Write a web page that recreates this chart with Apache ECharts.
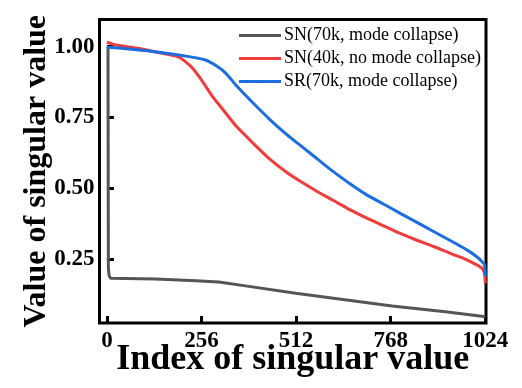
<!DOCTYPE html>
<html lang="en">
<head>
    <meta charset="UTF-8">
    <title>Singular values</title>
    <script src="https://cdn.jsdelivr.net/npm/echarts@6/dist/echarts.min.js"></script>
    <style>
        html, body { margin: 0; padding: 0; background: #fff; }
        #chart { width: 522px; height: 388px; }
    </style>
</head>
<body>
    <div id="chart"></div>
    <script>
        // series names (legend)
        var names = ['SN(70k, mode collapse)', 'SN(40k, no mode collapse)', 'SR(70k, mode collapse)'];

        // gray: SN 70k
        var grayIdx = [3, 3.5, 4, 6, 10, 132, 241, 303, 375, 511, 644, 772, 916, 1020, 1024];
        var grayVal = [1.0, 0.6, 0.22, 0.192, 0.183, 0.180, 0.174, 0.170, 0.156, 0.130, 0.107, 0.085, 0.065, 0.048, 0.046];

        // red: SN 40k
        var redIdx = [0, 24, 87, 150, 191, 209, 232, 259, 286, 308, 351, 396, 441, 487, 532, 577, 612, 657, 702, 747, 794, 839, 884, 929, 974, 1001, 1015, 1022, 1024];
        var redVal = [1.016, 1.006, 0.994, 0.977, 0.965, 0.951, 0.924, 0.877, 0.824, 0.788, 0.718, 0.659, 0.603, 0.556, 0.518, 0.483, 0.458, 0.425, 0.396, 0.369, 0.341, 0.317, 0.295, 0.271, 0.248, 0.230, 0.218, 0.200, 0.165];

        // blue: SR 70k
        var blueIdx = [0, 60, 150, 222, 267, 299, 322, 349, 389, 441, 487, 532, 577, 612, 657, 702, 747, 794, 839, 884, 929, 974, 1001, 1015, 1022, 1024];
        var blueVal = [0.998, 0.992, 0.979, 0.965, 0.953, 0.930, 0.906, 0.865, 0.810, 0.743, 0.690, 0.643, 0.596, 0.560, 0.517, 0.478, 0.446, 0.412, 0.380, 0.348, 0.316, 0.283, 0.259, 0.242, 0.230, 0.190];

        // tick labels
        var xTicks = [0, 256, 512, 768, 1024];
        var yTicks = [0.25, 0.5, 0.75, 1.0];

        var colors = ['#555555', '#f03c3c', '#1c6ddf'];
        var font = 'Liberation Serif';

        function pairs(xs, ys) {
            return xs.map(function(x, i) { return [x, ys[i]]; });
        }

        var chart = echarts.init(document.getElementById('chart'));

        function mkSeries(i, xs, ys, smooth) {
            return {
                name: names[i],
                type: 'line',
                data: pairs(xs, ys),
                symbol: 'none',
                smooth: smooth,
                lineStyle: { color: colors[i], width: 3 },
                itemStyle: { color: colors[i] }
            };
        }

        var option = {
            animation: false,
            backgroundColor: '#fff',
            grid: {
                left: 99.5, right: 36, top: 19.5, bottom: 65,
                show: true, borderColor: '#000', borderWidth: 3,
                containLabel: false,
                outerBoundsMode: 'none'
            },
            legend: {
                orient: 'vertical',
                left: 239, top: 26.5,
                padding: 0,
                itemWidth: 42, itemHeight: 3,
                itemGap: 5,
                icon: 'rect',
                data: names,
                textStyle: { fontFamily: font, fontSize: 18, color: '#000', padding: [0, 0, 0, -2] }
            },
            xAxis: {
                type: 'value',
                min: -20, max: 1026,
                name: 'Index of singular value',
                nameLocation: 'middle',
                nameGap: 19,
                nameMoveOverlap: false,
                nameTextStyle: { fontFamily: font, fontSize: 36, fontWeight: 'bold', color: '#000' },
                axisLine: { show: false },
                splitLine: { show: false },
                axisTick: { show: true, inside: true, length: 7, customValues: xTicks, lineStyle: { color: '#000', width: 3 } },
                axisLabel: {
                    customValues: xTicks, margin: 7,
                    fontFamily: font, fontSize: 23, fontWeight: 'bold', color: '#000',
                    formatter: function(v) { return String(v); }
                }
            },
            yAxis: {
                type: 'value',
                min: 0.025, max: 1.096,
                name: 'Value of singular value',
                nameLocation: 'middle',
                nameGap: 47,
                nameMoveOverlap: false,
                nameTextStyle: { fontFamily: font, fontSize: 32, fontWeight: 'bold', color: '#000' },
                axisLine: { show: false },
                splitLine: { show: false },
                axisTick: { show: true, inside: true, length: 7, customValues: yTicks, lineStyle: { color: '#000', width: 3 } },
                axisLabel: {
                    customValues: yTicks, margin: 5,
                    fontFamily: font, fontSize: 23, fontWeight: 'bold', color: '#000',
                    formatter: function(v) { return v.toFixed(2); }
                }
            },
            series: [
                mkSeries(0, grayIdx, grayVal, false),
                mkSeries(1, redIdx, redVal, 0.2),
                mkSeries(2, blueIdx, blueVal, 0.2)
            ]
        };
        chart.setOption(option);
    </script>
</body>
</html>
